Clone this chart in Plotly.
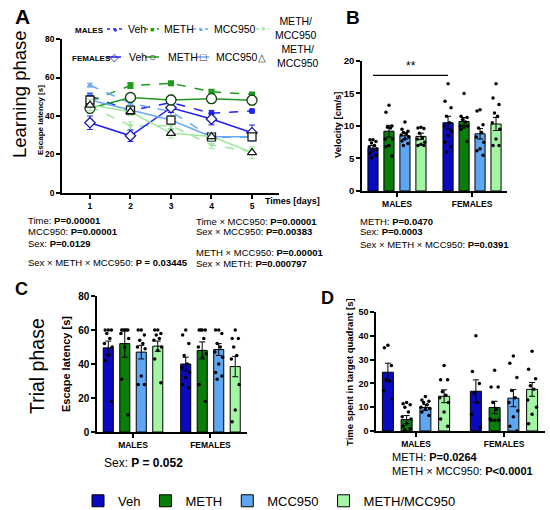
import plotly.graph_objects as go

FONT = "Liberation Sans, Arial, sans-serif"

# ---------------- data ----------------
groups = ["Veh", "METH", "MCC950", "METH/MCC950"]
bar_colors = ["#0a0ac0", "#0a7d0a", "#5ea6f2", "#a3f5a3"]
sexes = ["MALES", "FEMALES"]
days = [1, 2, 3, 4, 5]

# Panel A: escape latency learning phase (mean, sem)
a_m_veh = [50.4, 42.8, 47.0, 41.4, 42.6]
a_m_veh_err = [1.5, 1.5, 1.5, 1.5, 1.0]
a_m_meth = [47.8, 55.8, 57.0, 52.6, 51.2]
a_m_meth_err = [1.5, 1.5, 1.0, 1.0, 1.0]
a_m_mcc = [56.0, 46.6, 42.3, 29.0, 29.0]
a_m_mcc_err = [1.0, 1.5, 2.0, 2.0, 2.0]
a_m_mm = [45.0, 35.0, 35.0, 25.0, 21.4]
a_m_mm_err = [2.0, 2.0, 2.0, 2.0, 1.5]
a_f_veh = [36.5, 29.7, 44.3, 38.4, 31.3]
a_f_veh_err = [3.5, 3.0, 2.5, 3.0, 4.0]
a_f_meth = [44.0, 49.6, 48.3, 49.0, 48.2]
a_f_meth_err = [2.5, 2.0, 2.5, 2.5, 2.5]
a_f_mcc = [48.3, 43.1, 37.9, 29.2, 29.2]
a_f_mcc_err = [3.0, 2.0, 2.0, 2.0, 2.0]
a_f_mm = [45.7, 42.2, 31.0, 29.3, 21.0]
a_f_mm_err = [3.0, 2.0, 2.5, 2.0, 3.0]
a_yticks = [0, 20, 40, 60, 80]

# Panel B: velocity
b_mean_m = [6.6, 9.2, 8.5, 8.4]
b_err_m = [0.4, 0.9, 0.5, 0.5]
b_mean_f = [10.5, 10.7, 8.8, 10.3]
b_err_f = [1.0, 0.6, 0.8, 1.0]
b_m_veh = [7.9, 7.9, 7.6, 7.4, 7.0, 6.8, 6.5, 6.2, 5.8, 5.5, 5.1]
b_m_meth = [13.2, 12.1, 10.0, 9.8, 9.7, 8.0, 8.0, 7.0, 6.8, 5.4]
b_m_mcc = [10.6, 9.5, 9.2, 9.0, 8.8, 8.6, 8.3, 8.0, 7.7, 7.3, 7.0]
b_m_mm = [9.8, 9.7, 9.6, 8.9, 8.2, 8.0, 7.5, 7.2, 7.0, 7.0]
b_f_veh = [16.5, 13.8, 12.8, 11.5, 10.5, 10.0, 9.2, 8.5, 7.5, 6.8, 6.0]
b_f_meth = [15.0, 11.5, 11.3, 11.0, 10.6, 10.0, 10.0, 9.8, 9.5, 7.6]
b_f_mcc = [12.5, 12.3, 10.2, 9.7, 9.0, 8.3, 7.5, 6.5, 6.2, 5.5]
b_f_mm = [16.5, 14.3, 13.3, 12.0, 11.5, 10.5, 9.5, 8.0, 7.0, 7.0]
b_sig_y = 17.8
b_yticks = [0, 5, 10, 15, 20]

# Panel C: escape latency trial phase
c_mean_m = [49.5, 52.0, 47.0, 50.5]
c_err_m = [4.0, 8.0, 4.0, 3.0]
c_mean_f = [40.0, 48.0, 48.5, 38.5]
c_err_f = [4.0, 5.0, 3.5, 6.0]
c_m_veh = [60, 60, 60, 58, 55, 52, 50, 45, 42, 18]
c_m_meth = [60, 60, 60, 60, 60, 58, 55, 50, 31, 10]
c_m_mcc = [60, 60, 57, 54, 52, 50, 49, 33, 28, 28]
c_m_mm = [60, 60, 58, 57, 55, 54, 50, 48, 43, 29]
c_f_veh = [60, 57, 52, 45, 40, 38, 35, 32, 28, 26]
c_f_meth = [60, 60, 60, 60, 55, 50, 46, 44, 28, 18]
c_f_mcc = [60, 60, 58, 52, 50, 47, 44, 40, 35, 33, 31]
c_f_mm = [60, 55, 55, 50, 45, 43, 28, 13, 6]
c_yticks = [0, 20, 40, 60, 80]

# Panel D: time in target quadrant
d_mean_m = [24.7, 4.8, 9.9, 14.6]
d_err_m = [3.8, 1.7, 1.2, 2.7]
d_mean_f = [16.7, 9.9, 13.8, 17.5]
d_err_f = [4.8, 2.6, 3.6, 2.9]
d_m_veh = [36, 35, 27.5, 21.5, 21, 17, 13.5]
d_m_meth = [12, 11.5, 11, 10, 8, 6, 5, 3, 2, 1, 0.5]
d_m_mcc = [14.5, 13, 12.5, 12, 11, 10, 9.5, 9, 8, 6.5]
d_m_mm = [27.5, 21.5, 21.5, 16.5, 15, 14, 12, 8, 5, 2]
d_f_veh = [40, 25, 20, 16, 12, 7, 1.5]
d_f_meth = [25.5, 18.5, 18.5, 12, 9, 5, 4.5, 4.5, 4.5, 4.5]
d_f_mcc = [31.5, 28.5, 22.5, 17, 14, 12, 8.5, 6, 2, 0]
d_f_mm = [33.5, 26, 22, 19, 17.5, 13, 10, 7, 3]
d_yticks = [0, 10, 20, 30, 40, 50]

# ---------------- figure ----------------
fig = go.Figure()

line_cols = ["#1f1fff", "#1e9a1e", "#66aaf5", "#9ce89c"]
m_series = [a_m_veh, a_m_meth, a_m_mcc, a_m_mm]
m_errs = [a_m_veh_err, a_m_meth_err, a_m_mcc_err, a_m_mm_err]
f_series = [a_f_veh, a_f_meth, a_f_mcc, a_f_mm]
f_errs = [a_f_veh_err, a_f_meth_err, a_f_mcc_err, a_f_mm_err]
m_symbols = ["circle", "square", "triangle-up", "triangle-down"]
f_symbols = ["diamond", "circle", "square", "triangle-up"]
f_outline = ["#1a1a9a", "#103d10", "#1a1a1a", "#1a1a1a"]
f_sizes = [8, 10, 8, 8]

for k in range(4):
    fig.add_trace(go.Scatter(
        x=days, y=m_series[k], mode="lines+markers", name="MALES " + groups[k],
        line=dict(color=line_cols[k], width=1.5, dash="dash"),
        marker=dict(symbol=m_symbols[k], size=6, color=line_cols[k]),
        error_y=dict(type="data", array=m_errs[k], color=line_cols[k], thickness=1, width=3),
        showlegend=False, xaxis="x", yaxis="y", cliponaxis=False))
for k in range(4):
    fig.add_trace(go.Scatter(
        x=days, y=f_series[k], mode="lines+markers", name="FEMALES " + groups[k],
        line=dict(color=line_cols[k], width=1.5),
        marker=dict(symbol=f_symbols[k], size=f_sizes[k], color="white",
                    line=dict(color=f_outline[k], width=1.3)),
        error_y=dict(type="data", array=f_errs[k], color=line_cols[k], thickness=1, width=3),
        showlegend=False, xaxis="x", yaxis="y", cliponaxis=False))

SLOT = 0.213
JIT = [0.0, -0.04, 0.04, -0.02, 0.02, -0.05, 0.05]


def add_bar_panel(xa, ya, means_m, errs_m, means_f, errs_f, dots_m, dots_f, bw, show_leg):
    for k in range(4):
        xs = [g + (k - 1.5) * SLOT for g in range(2)]
        fig.add_trace(go.Bar(
            x=xs, y=[means_m[k], means_f[k]], width=bw, name=groups[k],
            marker=dict(color=bar_colors[k], line=dict(color="black", width=1)),
            error_y=dict(type="data", array=[errs_m[k], errs_f[k]], color="black",
                         thickness=1, width=3),
            showlegend=show_leg, xaxis=xa, yaxis=ya))
        for g, dots in enumerate([dots_m[k], dots_f[k]]):
            cx = g + (k - 1.5) * SLOT
            fig.add_trace(go.Scatter(
                x=[cx + JIT[i % len(JIT)] for i in range(len(dots))], y=dots,
                mode="markers", marker=dict(color="black", size=3.5),
                showlegend=False, xaxis=xa, yaxis=ya, cliponaxis=False,
                hoverinfo="y"))


add_bar_panel("x2", "y2", b_mean_m, b_err_m, b_mean_f, b_err_f,
              [b_m_veh, b_m_meth, b_m_mcc, b_m_mm], [b_f_veh, b_f_meth, b_f_mcc, b_f_mm],
              0.135, True)
add_bar_panel("x3", "y3", c_mean_m, c_err_m, c_mean_f, c_err_f,
              [c_m_veh, c_m_meth, c_m_mcc, c_m_mm], [c_f_veh, c_f_meth, c_f_mcc, c_f_mm],
              0.13, False)
add_bar_panel("x4", "y4", d_mean_m, d_err_m, d_mean_f, d_err_f,
              [d_m_veh, d_m_meth, d_m_mcc, d_m_mm], [d_f_veh, d_f_meth, d_f_mcc, d_f_mm],
              0.125, False)

# significance line in B
sx0 = 0 - 1.5 * SLOT
sx1 = 1 - 1.5 * SLOT
fig.add_shape(type="line", x0=sx0, x1=sx1, y0=b_sig_y, y1=b_sig_y, xref="x2", yref="y2",
              line=dict(color="black", width=1.2))
fig.add_annotation(x=(sx0 + sx1) / 2, y=b_sig_y, xref="x2", yref="y2", text="**",
                   showarrow=False, yanchor="bottom", font=dict(size=12, color="black"))

axis_common = dict(showline=True, linecolor="black", linewidth=1.5, ticks="outside",
                   ticklen=4, tickwidth=1.5, tickcolor="black", showgrid=False,
                   zeroline=False, mirror=False)
cat_ticks = dict(tickmode="array", tickvals=[0, 1], ticktext=[f"<b>{s}</b>" for s in sexes])


def num_ticks(vals):
    return dict(tickmode="array", tickvals=vals, ticktext=[f"<b>{v}</b>" for v in vals])


fig.update_layout(
    width=550, height=510, margin=dict(l=0, r=0, t=0, b=0, autoexpand=False),
    paper_bgcolor="white", plot_bgcolor="white",
    font=dict(family=FONT, color="black"),
    xaxis=dict(domain=[0.1127, 0.5073], range=[0.309, 5.667],
               tickfont=dict(size=8.5), anchor="y", **num_ticks(days), **axis_common),
    yaxis=dict(domain=[0.6216, 0.9235], range=[0, 80], tickfont=dict(size=8.5), anchor="x",
               **num_ticks(a_yticks), **axis_common),
    xaxis2=dict(domain=[0.658, 0.922], range=[-0.467, 1.467], tickfont=dict(size=8.5),
                anchor="y2", **cat_ticks, **axis_common),
    yaxis2=dict(domain=[0.6255, 0.8804], range=[0, 20], tickfont=dict(size=9.5), anchor="x2",
                **num_ticks(b_yticks), **axis_common),
    xaxis3=dict(domain=[0.1764, 0.449], range=[-0.465, 1.471], tickfont=dict(size=8.5),
                anchor="y3", **cat_ticks, **axis_common),
    yaxis3=dict(domain=[0.1529, 0.4196], range=[0, 80], tickfont=dict(size=10), anchor="x3",
                **num_ticks(c_yticks), **axis_common),
    xaxis4=dict(domain=[0.6836, 0.9909], range=[-0.455, 1.466], tickfont=dict(size=8.5),
                anchor="y4", **cat_ticks, **axis_common),
    yaxis4=dict(domain=[0.1549, 0.3882], range=[0, 50], tickfont=dict(size=9), anchor="x4",
                **num_ticks(d_yticks), **axis_common),
    legend=dict(orientation="h", x=0.49, y=0.018, xanchor="center", yanchor="middle",
                bgcolor="rgba(0,0,0,0)", font=dict(size=13), itemwidth=30),
)


def txt(x, y, text, size, bold=False, angle=0, xanchor="left", yanchor="middle", color="black"):
    t = f"<b>{text}</b>" if bold else text
    fig.add_annotation(x=x / 550, y=1 - y / 510, xref="paper", yref="paper", text=t,
                       showarrow=False, textangle=angle, xanchor=xanchor, yanchor=yanchor,
                       font=dict(size=size, family=FONT, color=color))


def seg(x0, x1, y, color, dash):
    fig.add_shape(type="line", xref="paper", yref="paper", x0=x0 / 550, x1=x1 / 550,
                  y0=1 - y / 510, y1=1 - y / 510, line=dict(color=color, width=1.5, dash=dash))


# ---- panel A key (drawn as text + short line samples) ----
key_names = ["Veh", "METH", "MCC950", "METH/<br>MCC950"]
m_glyph = ["●", "■", "▲", "▼"]
m_gsize = [7, 7, 6, 6]
f_glyph = ["◇", "○", "□", "△"]
f_gsize = [11, 12, 11, 10]
row_m = dict(y=29, samp=[(107, 123), (145, 159), (193, 209), (256, 269)],
             text_x=[126, 162, 212, 273])
row_f = dict(y=57, samp=[(107, 121), (145, 159), (197, 209), (256, 267)],
             text_x=[127, 166, 214, 275])
txt(73, 30, "MALES", 8, True)
txt(70, 58, "FEMALES", 8, True)
for k in range(4):
    a, b = row_m["samp"][k]
    seg(a, b, row_m["y"], line_cols[k], "dot")
    txt((a + b) / 2, row_m["y"], m_glyph[k], m_gsize[k], xanchor="center", color=line_cols[k])
    txt(row_m["text_x"][k], row_m["y"] - (0 if k < 3 else 1), key_names[k], 10.5)
    a, b = row_f["samp"][k]
    if k < 3:
        seg(a, b, row_f["y"], line_cols[k], "solid")
    txt((a + b) / 2, row_f["y"], f_glyph[k], f_gsize[k], xanchor="center", color=f_outline[k])
    txt(row_f["text_x"][k], row_f["y"] - (0 if k < 3 else 1), key_names[k], 10.5)

# panel letters and phases
txt(13, 16, "A", 21, True)
txt(344, 18, "B", 19, True)
txt(13, 289, "C", 18, True)
txt(319, 298, "D", 18, True)
txt(19, 94, "Learning phase", 18.5, False, -90, "center")
txt(37, 366, "Trial phase", 19.5, False, -90, "center")

# axis titles
txt(40, 120, "Escape latency [s]", 8, True, -90, "center")
txt(337, 125, "Velocity [cm/s]", 9.5, True, -90, "center")
txt(66, 364, "Escape latency [s]", 11, True, -90, "center")
txt(349, 372, "Time spent in target quadrant [s]", 9.5, True, -90, "center")
txt(263, 201, "Times [days]", 9, True)

# stats texts
txt(26, 220, "Time: <b>P=0.00001</b>", 9.5)
txt(26, 232, "MCC950: <b>P=0.00001</b>", 9.5)
txt(26, 243, "Sex: <b>P=0.0129</b>", 9.5)
txt(26, 262, "Sex × METH × MCC950: <b>P = 0.03445</b>", 9.5)
txt(194, 221, "Time × MCC950: <b>P=0.00001</b>", 9.5)
txt(194, 232, "Sex × MCC950: <b>P=0.00383</b>", 9.5)
txt(194, 252, "METH × MCC950: <b>P=0.00001</b>", 9.5)
txt(194, 263, "Sex × METH: <b>P=0.000797</b>", 9.5)
txt(358, 221, "METH: <b>P=0.0470</b>", 9.5)
txt(358, 232, "Sex: <b>P=0.0003</b>", 9.5)
txt(358, 244, "Sex × METH × MCC950: <b>P=0.0391</b>", 9.5)
txt(102, 463, "Sex: <b>P = 0.052</b>", 12)
txt(390, 457, "METH: <b>P=0.0264</b>", 11)
txt(390, 471, "METH × MCC950: <b>P<0.0001</b>", 11)

fig.write_html("out.html", config={"displayModeBar": False},
               post_script="document.body.style.margin='0';document.body.style.padding='0';")
